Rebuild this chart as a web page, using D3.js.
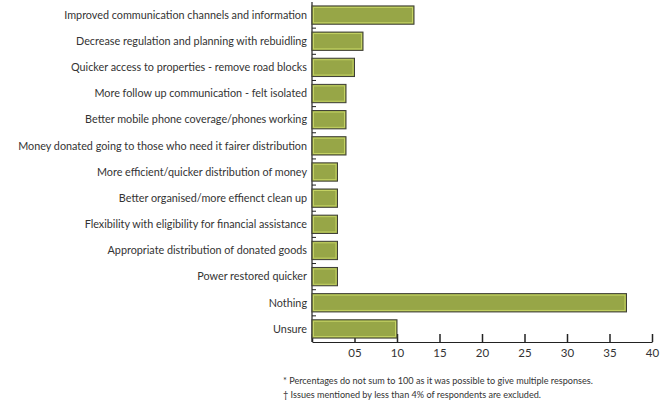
<html>
<head>
    <script src='https://d3js.org/d3.v7.min.js'></script>
    <style>
        body { margin: 0; background: white; }
        text { font-family: 'Lato', sans-serif; fill: #333; }
    </style>
</head>
<body>
<script>

var categories = ['Improved communication channels and information',
                  'Decrease regulation and planning with rebuidling',
                  'Quicker access to properties - remove road blocks',
                  'More follow up communication - felt isolated',
                  'Better mobile phone coverage/phones working',
                  'Money donated going to those who need it fairer distribution',
                  'More efficient/quicker distribution of money',
                  'Better organised/more effienct clean up',
                  'Flexibility with eligibility for financial assistance',
                  'Appropriate distribution of donated goods',
                  'Power restored quicker',
                  'Nothing',
                  'Unsure'];
var values = [12, 6, 5, 4, 4, 4, 3, 3, 3, 3, 3, 37, 10];
var tickValues = [0, 5, 10, 15, 20, 25, 30, 35, 40];
var tickLabels = ['', '05', '10', '15', '20', '25', '30', '35', '40'];
var notes = ['* Percentages do not sum to 100 as it was possible to give multiple responses.',
             '\u2020 Issues mentioned by less than 4% of respondents are excluded.'];

var width = 661, height = 409;
var plotLeft = 312, plotRight = 652, plotTop = 2, plotBottom = 342;

var svg = d3.select('body').append('svg')
        .attr('width', width)
        .attr('height', height);

var x = d3.scaleLinear().domain([0, 40]).range([plotLeft, plotRight]);
var y = d3.scaleBand().domain(categories).range([plotTop, plotBottom]).paddingInner(0.3).paddingOuter(0.15);

// y axis line with small ticks between the categories
svg.append('line')
        .attr('x1', plotLeft).attr('x2', plotLeft)
        .attr('y1', plotTop).attr('y2', plotBottom)
        .attr('stroke', '#222').attr('stroke-width', 1.2);

var step = y.step();
for (var i = 1; i < categories.length; i++) {
    var yy = y(categories[i]) - step * y.paddingInner() / 2;
    svg.append('line')
            .attr('x1', plotLeft).attr('x2', plotLeft + 4)
            .attr('y1', yy).attr('y2', yy)
            .attr('stroke', '#222').attr('stroke-width', 1);
}

// x axis with ticks pointing inward
var xAxis = d3.axisBottom(x)
        .tickValues(tickValues)
        .tickSizeInner(-8)
        .tickSizeOuter(0)
        .tickFormat(function(d, i) { return tickLabels[i]; });

var gx = svg.append('g')
        .attr('transform', 'translate(0,' + plotBottom + ')')
        .call(xAxis);
gx.select('.domain').attr('stroke', '#222').attr('stroke-width', 1.2);
gx.selectAll('.tick line').attr('stroke', '#222').attr('stroke-width', 1.5);
gx.selectAll('.tick text')
        .attr('y', 7)
        .style('font-family', "'Lato', sans-serif")
        .style('font-size', '11.5px')
        .attr('fill', '#333');

// bars
var bars = svg.append('g');
bars.selectAll('rect.bar')
        .data(values)
        .enter().append('rect')
        .attr('class', 'bar')
        .attr('x', x(0))
        .attr('y', function(d, i) { return y(categories[i]); })
        .attr('width', function(d) { return x(d) - x(0); })
        .attr('height', y.bandwidth())
        .attr('fill', '#97a647')
        .attr('stroke', '#3d3d35')
        .attr('stroke-width', 1);

// light inner edge on each bar
bars.selectAll('rect.edge')
        .data(values)
        .enter().append('rect')
        .attr('class', 'edge')
        .attr('x', x(0) + 1.5)
        .attr('y', function(d, i) { return y(categories[i]) + 1.5; })
        .attr('width', function(d) { return x(d) - x(0) - 3; })
        .attr('height', y.bandwidth() - 3)
        .attr('fill', 'none')
        .attr('stroke', '#c4d263')
        .attr('stroke-width', 1);

// category labels
svg.append('g').selectAll('text')
        .data(categories)
        .enter().append('text')
        .attr('x', plotLeft - 5)
        .attr('y', function(d) { return y(d) + y.bandwidth() / 2; })
        .attr('dy', '0.35em')
        .attr('text-anchor', 'end')
        .style('font-size', '10.8px')
        .text(function(d) { return d; });

// footnotes
svg.append('g').selectAll('text')
        .data(notes)
        .enter().append('text')
        .attr('x', 283)
        .attr('y', function(d, i) { return 384 + i * 14; })
        .style('font-size', '9.1px')
        .text(function(d) { return d; });

</script>
</body>
</html>
